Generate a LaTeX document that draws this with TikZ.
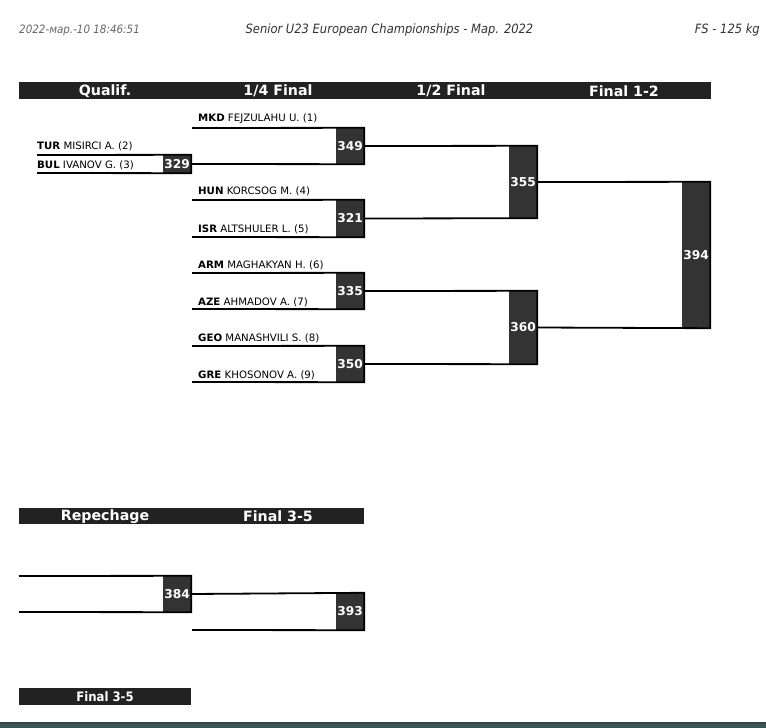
\documentclass[tikz,border=0pt]{standalone}
\usepackage{fontspec}
\setmainfont{DejaVu Sans}
\newfontfamily\condfont{DejaVu Sans Condensed}
\usetikzlibrary{positioning}
\definecolor{barblack}{HTML}{222222}
\definecolor{boutgray}{HTML}{333333}

\begin{document}
\begin{tikzpicture}[x=1pt,y=-1pt,
	every node/.style={inner sep=0pt},
	bar/.style={fill=barblack},
	head/.style={text=white,font=\bfseries\fontsize{14.2}{16}\selectfont},
	bout/.style={fill=boutgray,minimum width=28pt,text=white,font=\bfseries\fontsize{12.2}{14}\selectfont},
	athlete/.style={anchor=west,font=\fontsize{10.2}{12}\selectfont},
	info/.style={text=black!80,font=\condfont\itshape\fontsize{12.8}{14}\selectfont},
	wire/.style={line width=1.8pt}]
	\useasboundingbox (0,0) rectangle (766,728);
	% top line
	\node[info,text=black!60,anchor=west,font=\condfont\itshape\fontsize{11.5}{13}\selectfont] (stamp) at (19,30) {2022-мар.-10 18:46:51};
	\node[info] (title) at (389.5,30) {Senior U23 European Championships - Мар. 2022};
	\node[info,anchor=east] (cat) at (760,30) {FS - 125 kg};
	% round headers
	\fill[bar] (19,82) rectangle (711,99);
	\node[head] (hq) at (105,91) {Qualif.};
	\node[head] (hqf) at (278,91) {1/4 Final};
	\node[head] (hsf) at (451,91) {1/2 Final};
	\node[head] (hf) at (624,91) {Final 1-2};
	\fill[bar] (19,508) rectangle (364,524);
	\node[head] (hrep) at (105,516.5) {Repechage};
	\node[head] (hbr) at (278,516.5) {Final 3-5};
	\fill[bar] (19,688) rectangle (191,705);
	\node[head,font=\condfont\bfseries\fontsize{13}{15}\selectfont] (hbr2) at (105,697) {Final 3-5};
	% athletes
	\node[athlete] (a1) at (198,119) {\textbf{MKD} FEJZULAHU U. (1)};
	\node[athlete] (a2) at (37,146) {\textbf{TUR} MISIRCI A. (2)};
	\node[athlete] (a3) at (37,165) {\textbf{BUL} IVANOV G. (3)};
	\node[athlete] (a4) at (198,191) {\textbf{HUN} KORCSOG M. (4)};
	\node[athlete] (a5) at (198,229) {\textbf{ISR} ALTSHULER L. (5)};
	\node[athlete] (a6) at (198,265) {\textbf{ARM} MAGHAKYAN H. (6)};
	\node[athlete] (a7) at (198,302) {\textbf{AZE} AHMADOV A. (7)};
	\node[athlete] (a8) at (198,338) {\textbf{GEO} MANASHVILI S. (8)};
	\node[athlete] (a9) at (198,375) {\textbf{GRE} KHOSONOV A. (9)};
	% bouts
	\node[bout,minimum height=18pt] (b329) at (177,164) {329};
	\node[bout,minimum height=36pt] (b349) at (350,146) {349};
	\node[bout,minimum height=37pt] (b321) at (350,218.5) {321};
	\node[bout,minimum height=36pt] (b335) at (350,291) {335};
	\node[bout,minimum height=36pt] (b350) at (350,364) {350};
	\node[bout,minimum height=72pt] (b355) at (523,182) {355};
	\node[bout,minimum height=73pt] (b360) at (523,327.5) {360};
	\node[bout,minimum height=146pt] (b394) at (696,255) {394};
	\node[bout,minimum height=36pt] (b384) at (177,594) {384};
	\node[bout,minimum height=37pt] (b393) at (350,611.5) {393};
	% free ends
	\coordinate (q2) at (37,155);
	\coordinate (q3) at (37,173);
	\coordinate (s1) at (192,128);
	\coordinate (s4) at (192,200);
	\coordinate (s5) at (192,237);
	\coordinate (s6) at (192,273);
	\coordinate (s7) at (192,309);
	\coordinate (s8) at (192,346);
	\coordinate (s9) at (192,382);
	\coordinate (r1) at (19,576);
	\coordinate (r2) at (19,612);
	\coordinate (r3) at (192,630);
	% bracket lines
	\draw[wire] (q2) -- (b329.north east) -- (b329.south east) -- (q3);
	\draw[wire] (s1) -- (b349.north east) -- (b349.south east) -- (b329.east);
	\draw[wire] (s4) -- (b321.north east) -- (b321.south east) -- (s5);
	\draw[wire] (s6) -- (b335.north east) -- (b335.south east) -- (s7);
	\draw[wire] (s8) -- (b350.north east) -- (b350.south east) -- (s9);
	\draw[wire] (b349.east) -- (b355.north east) -- (b355.south east) -- (b321.east);
	\draw[wire] (b335.east) -- (b360.north east) -- (b360.south east) -- (b350.east);
	\draw[wire] (b355.east) -- (b394.north east) -- (b394.south east) -- (b360.east);
	\draw[wire] (r1) -- (b384.north east) -- (b384.south east) -- (r2);
	\draw[wire] (b384.east) -- (b393.north east) -- (b393.south east) -- (r3);
	% window edge
	\fill[black!75] (0,722) rectangle (766,724);
	\fill[gray!55!teal!70!black] (0,724) rectangle (766,728);
\end{tikzpicture}
\end{document}
